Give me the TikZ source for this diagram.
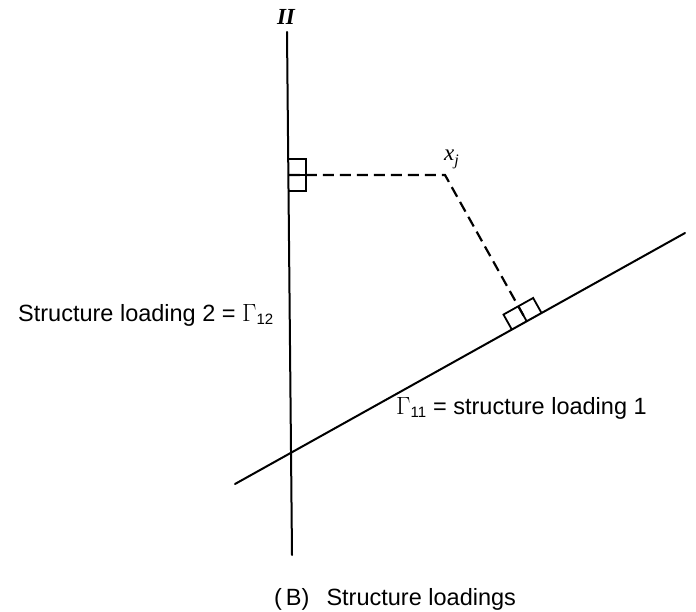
\documentclass[tikz,border=0pt]{standalone}
\usepackage{fontspec}
\setmainfont{Liberation Sans}
\newfontfamily\serifit{Liberation Serif}
\usetikzlibrary{calc}
\begin{document}
\begin{tikzpicture}[x=1pt,y=-1pt,
  axisline/.style={line width=2pt, line cap=round},
  dashline/.style={line width=2.2pt, dash pattern=on 11pt off 6pt},
  rightmark/.style={line width=1.8pt},
  lbl/.style={inner sep=0pt, font=\fontsize{23.5}{27}\selectfont}]
\useasboundingbox (0,0) rectangle (696,612);
% axes
\coordinate (vtop) at (287,32);
\coordinate (vbot) at (292,555);
\coordinate (oleft) at (235,484);
\coordinate (oright) at (685,233);
\draw[axisline] (vtop) -- (vbot);
\draw[axisline] (oleft) -- (oright);
% point and projections
\coordinate (xj) at (445,175);
\coordinate (footv) at (288.9,175);
\coordinate (footo) at (526.6,321.1);
\draw[dashline] (footv) -- (xj) -- (footo);
% right-angle marks on vertical axis
\draw[rightmark] ([yshift=16pt]footv) -- ++(17,0) -- ++(0,32) -- ++(-17,0);
\draw[rightmark] (footv) -- ++(17,0);
% right-angle marks on oblique axis (d = (0.873,-0.4876), n = (-0.4876,-0.873))
\draw[rightmark] ($(footo)+(-0.873*17,0.4876*17)$) -- ++(-0.4876*17,-0.873*17) -- ++(0.873*34,-0.4876*34) -- ++(0.4876*17,0.873*17);
\draw[rightmark] (footo) -- ++(-0.4876*17,-0.873*17);
% labels
\node[lbl, anchor=base] (II) at (286,25) {\fontsize{23}{26}\selectfont\serifit\bfseries\itshape II};
\node[lbl, anchor=base west] (xjl) at (444,161) {\fontsize{23}{26}\selectfont\serifit\itshape x\raisebox{-5pt}{\fontsize{16}{18}\selectfont j}};
\node[lbl, anchor=base west] (l2) at (18,321) {Structure loading 2 = $\Gamma_{\mbox{\fontsize{15}{17}\selectfont 12}}$};
\node[lbl, anchor=base west] (l1) at (396,414) {$\Gamma_{\mbox{\fontsize{15}{17}\selectfont 11}}$ = structure loading 1};
\node[lbl, anchor=base west] (cap) at (274,605) {(\,B)\hspace{0.45em} Structure loadings};
\end{tikzpicture}
\end{document}
